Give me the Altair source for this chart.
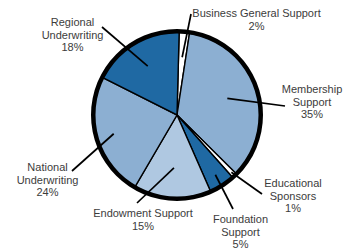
import math
import altair as alt
import pandas as pd

# ---- data ----
categories = ["Business General Support", "Membership Support", "Educational Sponsors",
              "Foundation Support", "Endowment Support", "National Underwriting",
              "Regional Underwriting"]
shares = [2, 35, 1, 5, 15, 24, 18]
label_texts = ["Business General Support\n2%", "Membership\nSupport\n35%",
               "Educational\nSponsors\n1%", "Foundation\nSupport\n5%",
               "Endowment Support\n15%", "National\nUnderwriting\n24%",
               "Regional\nUnderwriting\n18%"]
colors = ["#ffffff", "#8cafd2", "#ffffff", "#1f69a3", "#afc8e1", "#8cafd2", "#1f69a3"]

# ---- layout (pixel offsets from pie centre; y = first text line) ----
label_dx = [79.5, 135, 116, 63.5, -34, -129.5, -104.5]
label_dy = [-101, -25, 69, 105, 99, 53, -92]
leader_end_dx = [14, 108, 85, 56, -40, -105, -75]
leader_end_dy = [-101, -9, 79, 94, 88, 56, -88]
leader_start_r = [58, 53, 79, 71, 53, 66, 57]
start_deg = 1.5

W, H = 337, 244
CX, CY = 169, 107
R = 83

total = sum(shares)
mids = []
acc = 0
for s in shares:
    mids.append(start_deg + (acc + s / 2) / total * 360)
    acc += s

df = pd.DataFrame({
    "idx": list(range(len(categories))),
    "category": categories,
    "share": shares,
    "label": label_texts,
    "lx": label_dx,
    "ly": label_dy,
    "x1": [r * math.sin(math.radians(a)) for r, a in zip(leader_start_r, mids)],
    "y1": [-r * math.cos(math.radians(a)) for r, a in zip(leader_start_r, mids)],
    "x2": leader_end_dx,
    "y2": leader_end_dy,
})

xscale = alt.Scale(domain=[-CX, W - CX], nice=False, zero=False)
yscale = alt.Scale(domain=[-CY, H - CY], nice=False, zero=False, reverse=True)

off = math.radians(start_deg)
slices = alt.Chart(df).mark_arc(radius=R, stroke="black", strokeWidth=1.4).encode(
    x=alt.value(CX),
    y=alt.value(CY),
    theta=alt.Theta("share:Q", stack=True,
                    scale=alt.Scale(range=[off, off + 2 * math.pi])),
    color=alt.Color("category:N", scale=alt.Scale(domain=categories, range=colors),
                    legend=None),
    order=alt.Order("idx:Q"),
)

ring = alt.Chart(pd.DataFrame({"a": [0]})).mark_arc(
    radius=86, radius2=81.5, theta=0, theta2=2 * math.pi, color="black"
).encode(x=alt.value(CX), y=alt.value(CY))

leaders = alt.Chart(df).mark_rule(color="black", strokeWidth=1.7).encode(
    x=alt.X("x1:Q", scale=xscale, axis=None),
    y=alt.Y("y1:Q", scale=yscale, axis=None),
    x2="x2:Q",
    y2="y2:Q",
)

labels = alt.Chart(df).mark_text(
    lineBreak="\n", fontSize=11, font="Liberation Sans", color="#3c3c3c",
    align="center", baseline="middle", lineHeight=12.7
).encode(
    x=alt.X("lx:Q", scale=xscale, axis=None),
    y=alt.Y("ly:Q", scale=yscale, axis=None),
    text="label:N",
)

chart = alt.layer(slices, ring, leaders, labels).properties(
    width=W, height=H, padding=0, autosize=alt.AutoSizeParams(type="none")
).configure_view(stroke=None)

chart.save("out.html", embed_options={"renderer": "svg", "actions": False})
